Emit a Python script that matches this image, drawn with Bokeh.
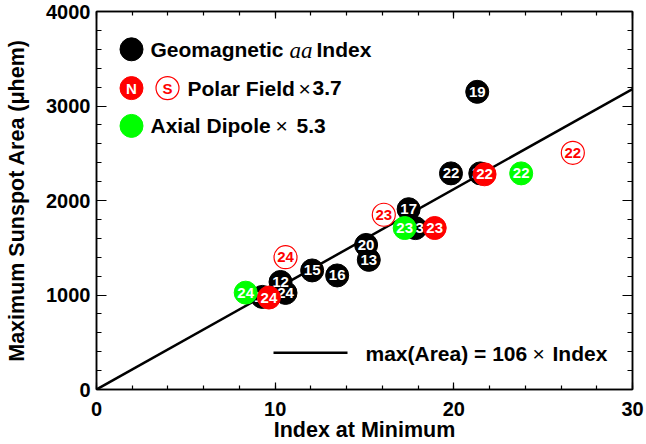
from bokeh.plotting import figure
from bokeh.models import Range1d, SingleIntervalTicker, LinearAxis, CustomJSTickFormatter
from bokeh.core.properties import value
from bokeh.embed import file_html
from bokeh.resources import INLINE

# ---------------- data ----------------
# Geomagnetic aa index at minimum vs maximum sunspot area
aa_cycle = ["12", "13", "14", "15", "16", "17", "19", "20", "21", "22", "23", "24"]
aa_index = [10.30, 15.24, 9.28, 12.07, 13.47, 17.47, 21.31, 15.09, 21.48, 19.84, 17.85, 10.58]
aa_area = [1138, 1372, 980, 1260, 1207, 1908, 3150, 1530, 2287, 2287, 1708, 1022]

# Polar field x 3.7, north (filled) and south (open)
pf_cycle = ["22", "23", "24"]
pf_north_index = [21.72, 18.93, 9.65]
pf_north_area = [2277, 1709, 973]
pf_south_index = [26.66, 16.08, 10.58]
pf_south_area = [2505, 1849, 1400]

# Axial dipole x 5.3
ad_cycle = ["22", "23", "24"]
ad_index = [23.77, 17.25, 8.35]
ad_area = [2287, 1709, 1025]

# fit: max(Area) = 106 x Index
fit_slope = 106
fit_x = [0, 30]
fit_y = [fit_slope * v for v in fit_x]

x_ticks_interval = 10
y_ticks_interval = 1000

# ---------------- layout ----------------
W, H = 646, 444
FL, FR, FT, FB = 96, 632, 11, 391   # frame edges in picture pixels
XMAX, YMAX = 30, 4000

def dx(px):
    return (px - FL) / (FR - FL) * XMAX

def dy(py):
    return (FB - py) / (FB - FT) * YMAX

FONT = value("Liberation Sans")

p = figure(width=W, height=H, output_backend="svg", toolbar_location=None,
           x_range=Range1d(0, XMAX), y_range=Range1d(0, YMAX),
           min_border_left=FL, min_border_right=W - FR,
           min_border_top=FT, min_border_bottom=H - FB,
           x_axis_label="Index at Minimum",
           y_axis_label="Maximum Sunspot Area (\u03bchem)")
p.grid.visible = False
p.outline_line_color = "black"
p.outline_line_width = 1.5
p.background_fill_color = "white"
p.border_fill_color = "white"

def style_axis(ax, major_in, minor_in, labels=True):
    ax.axis_line_color = "black"
    ax.axis_line_width = 1.5
    ax.major_tick_line_width = 1.2
    ax.minor_tick_line_width = 1.2
    ax.major_tick_in = major_in
    ax.major_tick_out = 0
    ax.minor_tick_in = minor_in
    ax.minor_tick_out = 0
    ax.major_label_text_font = "Liberation Sans"
    ax.major_label_text_font_style = "bold"
    ax.major_label_text_color = "black"
    if labels:
        ax.major_label_text_font_size = "20px"
    else:
        ax.formatter = CustomJSTickFormatter(code="return ''")
        ax.major_label_text_font_size = "1px"
        ax.major_label_standoff = 0
    ax.axis_label_text_font = "Liberation Sans"
    ax.axis_label_text_font_style = "bold"
    ax.axis_label_text_font_size = "21.5px"
    ax.axis_label_text_color = "black"

p.xaxis.ticker = SingleIntervalTicker(interval=x_ticks_interval, num_minor_ticks=5)
p.yaxis.ticker = SingleIntervalTicker(interval=y_ticks_interval, num_minor_ticks=5)
style_axis(p.xaxis[0], 7, 4)
style_axis(p.yaxis[0], 10, 5)
p.xaxis.major_label_standoff = 12
p.xaxis.axis_label_standoff = -1
p.yaxis.major_label_standoff = 6
p.yaxis.axis_label_standoff = 14

top = LinearAxis(ticker=SingleIntervalTicker(interval=x_ticks_interval, num_minor_ticks=5))
style_axis(top, 7, 4, labels=False)
p.add_layout(top, "above")
right = LinearAxis(ticker=SingleIntervalTicker(interval=y_ticks_interval, num_minor_ticks=5))
style_axis(right, 10, 5, labels=False)
p.add_layout(right, "right")

# fit line
p.line(fit_x, fit_y, line_color="black", line_width=2.5)

SIZE = 23
NUM_FS = "15px"

def num_text(xs, ys, labels, color):
    p.text(xs, ys, text=labels, text_color=color, text_font=FONT,
           text_font_style="bold", text_font_size=NUM_FS,
           text_align="center", text_baseline="middle")

# black aa points
p.scatter(aa_index, aa_area, size=SIZE, fill_color="black", line_color="black")
num_text(aa_index, aa_area, aa_cycle, "white")

# polar field south (open)
p.scatter(pf_south_index, pf_south_area, size=SIZE, fill_color="white",
          line_color="red", line_width=1.2)
num_text(pf_south_index, pf_south_area, pf_cycle, "red")

# polar field north (filled)
p.scatter(pf_north_index, pf_north_area, size=SIZE, fill_color="red", line_color="red")
num_text(pf_north_index, pf_north_area, pf_cycle, "white")

# axial dipole
p.scatter(ad_index, ad_area, size=SIZE, fill_color="#00ff00", line_color="#00ff00")
num_text(ad_index, ad_area, ad_cycle, "white")

# ---------------- legend (layout in picture pixels) ----------------
LEG_FS = "21px"
row_y = [49, 88, 126]
mk_x = 131

def leg_text(px, py, s, font=FONT, style="bold", size=LEG_FS):
    p.text([dx(px)], [dy(py)], text=[s], text_color="black", text_font=font,
           text_font_style=style, text_font_size=size,
           text_align="left", text_baseline="middle")

p.scatter([dx(mk_x)], [dy(row_y[0])], size=SIZE, fill_color="black", line_color="black")
leg_text(150, row_y[0], "Geomagnetic")
leg_text(289, row_y[0] + 1, "aa", font=value("Liberation Serif"), style="italic", size="23px")
leg_text(316, row_y[0], "Index")

p.scatter([dx(mk_x)], [dy(row_y[1])], size=SIZE, fill_color="red", line_color="red")
p.text([dx(mk_x)], [dy(row_y[1])], text=["N"], text_color="white", text_font=FONT,
       text_font_style="bold", text_font_size=NUM_FS, text_align="center",
       text_baseline="middle")
p.scatter([dx(167)], [dy(row_y[1])], size=SIZE, fill_color="white", line_color="red",
          line_width=1.2)
p.text([dx(167)], [dy(row_y[1])], text=["S"], text_color="red", text_font=FONT,
       text_font_style="bold", text_font_size=NUM_FS, text_align="center",
       text_baseline="middle")
leg_text(187, row_y[1], "Polar Field")
leg_text(298, row_y[1], "\u00d7", style="normal")
leg_text(312, row_y[1], "3.7")

p.scatter([dx(mk_x)], [dy(row_y[2])], size=SIZE, fill_color="#00ff00", line_color="#00ff00")
leg_text(150, row_y[2], "Axial Dipole")
leg_text(275, row_y[2], "\u00d7", style="normal")
leg_text(296, row_y[2], "5.3")

# fit legend
p.line([dx(273), dx(347)], [dy(354), dy(354)], line_color="black", line_width=2.5)
leg_text(365, 355, "max(Area) = %d" % fit_slope)
leg_text(532, 355, "\u00d7", style="normal")
leg_text(552, 355, "Index")

open("out.html", "w").write(file_html(p, INLINE))
